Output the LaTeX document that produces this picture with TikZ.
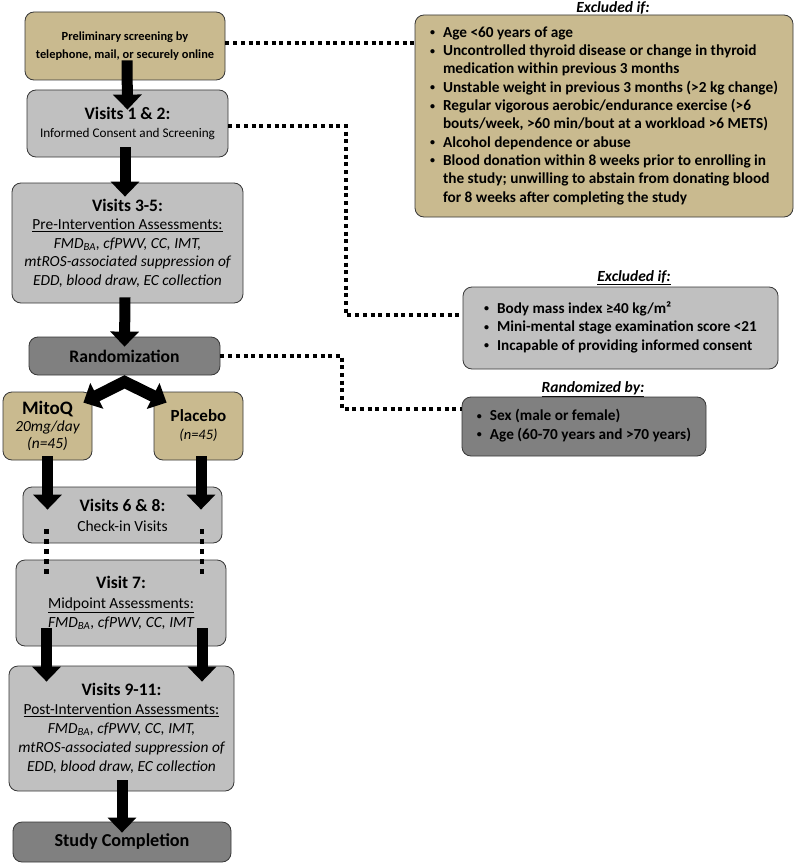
\documentclass[tikz,border=0pt]{standalone}
\usepackage{fontspec}
\setmainfont{Carlito}
\usetikzlibrary{arrows.meta,calc}
\definecolor{tanfill}{RGB}{201,186,143}
\definecolor{lgray}{RGB}{192,192,192}
\definecolor{dgray}{RGB}{128,128,128}
\definecolor{edge}{RGB}{55,55,55}
\newcommand{\fs}[2]{\fontsize{#1}{#2}\selectfont}
\newcommand{\bul}{\raisebox{1.5pt}{\fontsize{10}{10}\selectfont\textbullet}}
\begin{document}
\begin{tikzpicture}[x=1pt,y=-1pt,
  box/.style={draw=edge, line width=0.8pt, rounded corners=9pt, align=center, inner sep=0pt},
  tanbox/.style={box, fill=tanfill},
  graybox/.style={box, fill=lgray},
  darkbox/.style={box, fill=dgray},
  bigarrow/.style={line width=11pt, -{Triangle[width=28pt,length=15pt]}},
  forkarrow/.style={line width=12pt, line join=miter, {Triangle[width=28pt,length=15pt]}-{Triangle[width=28pt,length=15pt]}},
  dotline/.style={line width=4.5pt, dash pattern=on 4pt off 3.7pt},
  dotvert/.style={line width=4.5pt, dash pattern=on 5pt off 5pt},
  head/.style={font=\fs{15.5}{18}\bfseries\itshape, inner sep=0pt, anchor=base},
]
\useasboundingbox (0,0) rectangle (796,864);
\fill[white] (0,0) rectangle (796,864);

% left column boxes
\node[tanbox, minimum width=200pt, minimum height=68pt, font=\fs{12.4}{18}\bfseries] (prelim) at (125,46)
  {Preliminary screening by\\telephone, mail, or securely online};
\node[graybox, minimum width=201pt, minimum height=67pt, font=\fs{13.2}{18}] (v12) at (127.5,123.5)
  {{\fs{17.5}{18}\bfseries Visits 1 \& 2:}\\Informed Consent and Screening};
\node[graybox, minimum width=231pt, minimum height=120pt, font=\fs{15.4}{18.5}] (v35) at (127.5,243)
  {{\fs{17.5}{18.5}\bfseries Visits 3-5:}\\\underline{Pre-Intervention Assessments:}\\
   \itshape FMD\textsubscript{BA}, cfPWV, CC, IMT,\\\itshape mtROS-associated suppression of\\\itshape EDD, blood draw, EC collection};
\node[darkbox, minimum width=191pt, minimum height=38pt, font=\fs{17.6}{18}\bfseries] (rand) at (124.5,356) {Randomization};
\node[tanbox, minimum width=89pt, minimum height=68pt, font=\fs{15.4}{17}] (mitoq) at (47.5,426)
  {{\fs{19}{17}\bfseries MitoQ}\\\itshape 20mg/day\\\itshape (n=45)};
\node[tanbox, minimum width=89pt, minimum height=68pt, font=\fs{14.5}{18}] (placebo) at (198.5,426)
  {{\fs{17}{18}\bfseries Placebo}\\\itshape (n=45)};
\node[graybox, minimum width=199pt, minimum height=56pt, font=\fs{15.5}{20}] (v68) at (122.5,515)
  {{\fs{17.5}{20}\bfseries Visits 6 \& 8:}\\Check-in Visits};
\node[graybox, minimum width=210pt, minimum height=86pt, font=\fs{15.5}{19.5}] (v7) at (121,603)
  {{\fs{17.5}{19.5}\bfseries Visit 7:}\\\underline{Midpoint Assessments:}\\\itshape FMD\textsubscript{BA}, cfPWV, CC, IMT};
\node[graybox, minimum width=225pt, minimum height=125pt, font=\fs{15.4}{19}] (v911) at (121.5,728.5)
  {{\fs{17.5}{19}\bfseries Visits 9-11:}\\\underline{Post-Intervention Assessments:}\\
   \itshape FMD\textsubscript{BA}, cfPWV, CC, IMT,\\\itshape mtROS-associated suppression of\\\itshape EDD, blood draw, EC collection};
\node[darkbox, minimum width=218pt, minimum height=40pt, font=\fs{18.2}{18}\bfseries] (study) at (122,842) {Study Completion};

% right column boxes
\node[head] (lab1) at (613,12.5) {\underline{Excluded if:}};
\node[tanbox, minimum width=378pt, minimum height=202pt, font=\fs{15.3}{18.3}\bfseries] (excl1) at (604,116)
  {\begin{tabular}{@{}c@{\hspace{8pt}}l@{}}
   \bul & Age <60 years of age\\
   \bul & Uncontrolled thyroid disease or change in thyroid\\
        & medication within previous 3 months\\
   \bul & Unstable weight in previous 3 months (>2 kg change)\\
   \bul & Regular vigorous aerobic/endurance exercise (>6\\
        & bouts/week, >60 min/bout at a workload >6 METS)\\
   \bul & Alcohol dependence or abuse\\
   \bul & Blood donation within 8 weeks prior to enrolling in\\
        & the study; unwilling to abstain from donating blood\\
        & for 8 weeks after completing the study
   \end{tabular}};
\node[head] (lab2) at (634,281) {\underline{Excluded if:}};
\node[graybox, minimum width=315pt, minimum height=82pt, font=\fs{15.2}{18.5}\bfseries] (excl2) at (620.5,328)
  {\begin{tabular}{@{}c@{\hspace{8pt}}l@{}}
   \bul & Body mass index ≥40 kg/m²\\
   \bul & Mini-mental stage examination score <21\\
   \bul & Incapable of providing informed consent
   \end{tabular}};
\node[head] (lab3) at (593,392) {\underline{Randomized by:}};
\node[darkbox, minimum width=244pt, minimum height=59pt, font=\fs{15.3}{18.5}\bfseries] (randby) at (584,426.5)
  {\begin{tabular}{@{}c@{\hspace{8pt}}l@{}}
   \bul & Sex (male or female)\\
   \bul & Age (60-70 years and >70 years)
   \end{tabular}};

% dotted connectors
\draw[dotline] ($(prelim.east)+(0,-3)$) coordinate (d1s) -- (d1s -| excl1.west);
\coordinate (c2) at (346,315);
\draw[dotline] ($(v12.east)+(0,2.5)$) -| (c2) -- (c2 -| excl2.west);
\coordinate (c3) at (342,409);
\draw[dotline] (rand.east) -| (c3) -- (c3 -| randby.west);
\draw[dotvert] ($(mitoq.south |- v68.south)+(-1,-14)$) -- ($(mitoq.south |- v7.north)+(-1,17)$);
\draw[dotvert] ($(placebo.south |- v68.south)+(3.5,-14)$) -- ($(placebo.south |- v7.north)+(3.5,17)$);

% arrows
\draw[bigarrow] ($(prelim.south)+(2,-20)$) -- ($(v12.north)+(0,20)$);
\draw[bigarrow] ($(v12.south)+(-2.5,-10)$) -- ($(v35.north)+(-2.5,14)$);
\draw[bigarrow] ($(v35.south)+(-2.5,-6)$) -- ($(rand.north)+(0,10)$);
\coordinate (apex) at ($(rand.south)+(0,6.5)$);
\draw[forkarrow] ($(mitoq.north east)+(-9,11)$) -- (apex) -- ($(placebo.north west)+(13,11)$);
\draw[bigarrow] ($(mitoq.south)+(0,-4)$) -- ($(mitoq.south |- v68.north)+(0,23)$);
\draw[bigarrow] ($(placebo.south)+(2.5,-4)$) -- ($(placebo.south |- v68.north)+(2.5,23)$);
\draw[bigarrow] ($(mitoq.south |- v7.south)+(-1,-18)$) -- ($(mitoq.south |- v911.north)+(-1,16)$);
\draw[bigarrow] ($(placebo.south |- v7.south)+(3.5,-18)$) -- ($(placebo.south |- v911.north)+(3.5,16)$);
\draw[bigarrow] ($(v911.south)+(0.5,-11)$) -- ($(study.north)+(0,11)$);
\end{tikzpicture}
\end{document}
